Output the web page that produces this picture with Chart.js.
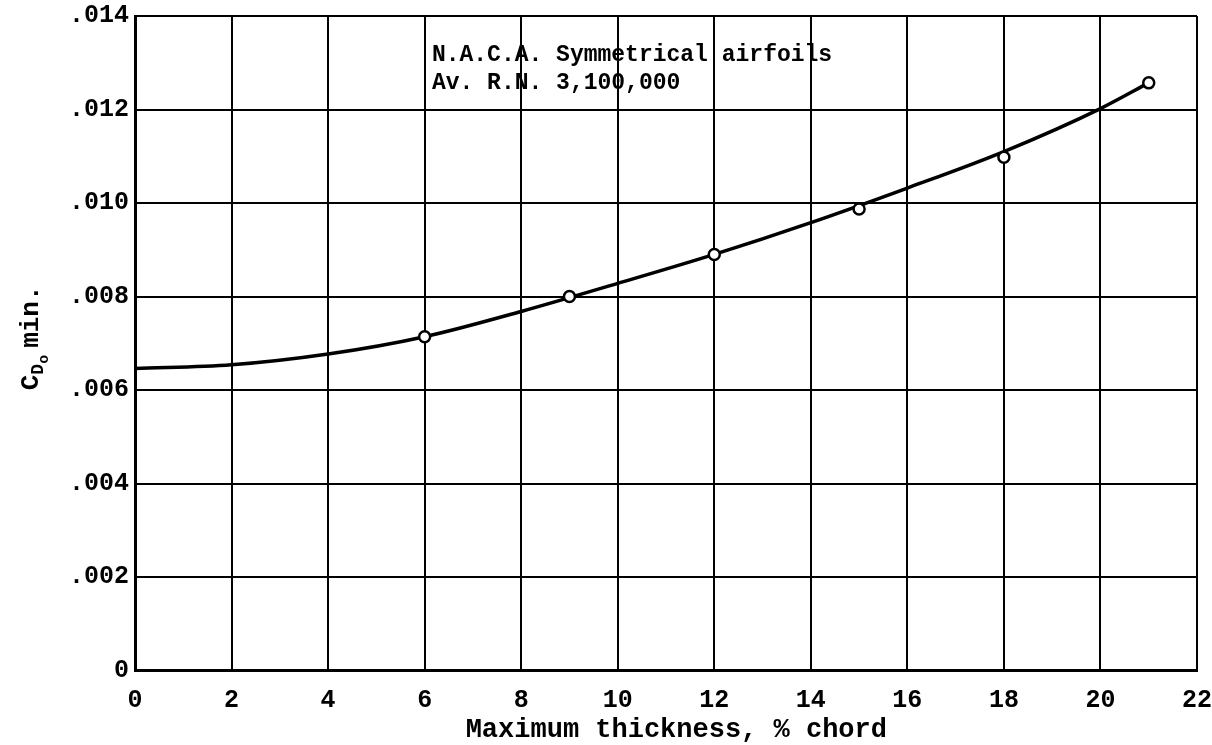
<!DOCTYPE html>
<html>
<head>
<meta charset="utf-8">
<script src="https://cdn.jsdelivr.net/npm/chart.js@4/dist/chart.umd.min.js"></script>
<style>
  html, body { margin: 0; padding: 0; background: #fff; }
  #wrap { width: 1212px; height: 745px; }
</style>
</head>
<body>
<div id="wrap"><canvas id="cd-chart" width="1212" height="745"></canvas></div>
<script>
// measured section drag points (open circles)
const pointThickness = [6, 9, 12, 15, 18, 21];
const pointCd = [0.00714, 0.0080, 0.00890, 0.00987, 0.01098, 0.01257];

// faired curve through the points
const curveThickness = [0, 2, 4, 6, 8, 10, 12, 14, 16, 18, 20, 21];
const curveCd = [0.00646, 0.00654, 0.00677, 0.00714, 0.00768, 0.00828, 0.00890, 0.00958, 0.01032, 0.01110, 0.01202, 0.01257];

const noteLines = ["N.A.C.A. Symmetrical airfoils", "Av. R.N. 3,100,000"];
const xTitle = "Maximum thickness, % chord";

const FONT = "'Liberation Mono', 'DejaVu Sans Mono', monospace";

// axis titles: y has C, subscript D, sub-subscript o
const titlesPlugin = {
  id: "titles",
  afterDraw(chart) {
    const ctx = chart.ctx;
    const area = chart.chartArea;
    const xs = chart.scales.x;
    ctx.save();
    ctx.fillStyle = "#000";

    // x title, a little right of centre as on the sheet
    ctx.font = "bold 27px " + FONT;
    ctx.textAlign = "left";
    ctx.textBaseline = "middle";
    ctx.fillText(xTitle, xs.getPixelForValue(6.85), 730);

    ctx.translate(30, (area.top + area.bottom) / 2);
    ctx.rotate(-Math.PI / 2);
    ctx.textBaseline = "alphabetic";
    let x = -47;
    ctx.font = "bold 26px " + FONT;
    ctx.fillText("C", x, 8);
    x += ctx.measureText("C").width;
    ctx.font = "bold 18px " + FONT;
    ctx.fillText("D", x, 13);
    x += ctx.measureText("D").width;
    ctx.font = "bold 15px " + FONT;
    ctx.fillText("o", x, 18);
    x += ctx.measureText("o").width + 7;
    ctx.font = "bold 26px " + FONT;
    ctx.fillText("min.", x, 8);
    ctx.restore();
  },
};

// label box in the upper part of the grid
const notePlugin = {
  id: "note",
  afterDraw(chart) {
    const ctx = chart.ctx;
    const xs = chart.scales.x;
    const ys = chart.scales.y;
    ctx.save();
    ctx.fillStyle = "#000";
    ctx.font = "bold 23px " + FONT;
    ctx.textAlign = "left";
    ctx.textBaseline = "middle";
    const left = xs.getPixelForValue(6.15);
    ctx.fillText(noteLines[0], left, ys.getPixelForValue(0.01317));
    ctx.fillText(noteLines[1], left, ys.getPixelForValue(0.01257));
    ctx.restore();
  },
};

new Chart(document.getElementById("cd-chart"), {
  type: "scatter",
  data: {
    datasets: [
      {
        label: "faired curve",
        data: curveThickness.map((t, i) => ({ x: t, y: curveCd[i] })),
        showLine: true,
        borderColor: "#000",
        borderWidth: 3.5,
        pointRadius: 0,
        cubicInterpolationMode: "monotone",
        order: 2,
      },
      {
        label: "test points",
        data: pointThickness.map((t, i) => ({ x: t, y: pointCd[i] })),
        showLine: false,
        pointRadius: 5.5,
        pointBorderWidth: 2.5,
        pointBorderColor: "#000",
        pointBackgroundColor: "#fff",
        order: 1,
      },
    ],
  },
  options: {
    responsive: false,
    animation: false,
    layout: { padding: { left: 0, right: 15, top: 16, bottom: 0 } },
    plugins: {
      legend: { display: false },
      tooltip: { enabled: false },
    },
    scales: {
      x: {
        type: "linear",
        min: 0,
        max: 22,
        afterFit: (scale) => {
          scale.height = 74.5;
          scale.paddingLeft = 0;
          scale.paddingRight = 0;
        },
        grid: { color: "#000", lineWidth: 2, drawTicks: false },
        border: { color: "#000", width: 3 },
        ticks: {
          stepSize: 2,
          color: "#000",
          padding: 15,
          autoSkip: false,
          maxRotation: 0,
          font: { family: FONT, size: 25, weight: "bold" },
        },
      },
      y: {
        type: "linear",
        min: 0,
        max: 0.014,
        afterFit: (scale) => {
          scale.width = 135;
          scale.paddingTop = 0;
          scale.paddingBottom = 0;
        },
        grid: { color: "#000", lineWidth: 2, drawTicks: false },
        border: { color: "#000", width: 3 },
        ticks: {
          stepSize: 0.002,
          color: "#000",
          padding: 6,
          autoSkip: false,
          font: { family: FONT, size: 25, weight: "bold" },
          callback: (v) => (v === 0 ? "0" : v.toFixed(3).replace(/^0/, "")),
        },
      },
    },
  },
  plugins: [titlesPlugin, notePlugin],
});
</script>
</body>
</html>
